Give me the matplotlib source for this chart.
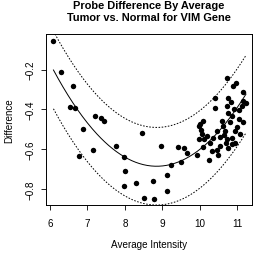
#!/usr/bin/env python3
# -*- coding: utf-8 -*-
"""
Probe difference by average intensity, tumor vs. normal, VIM gene
"""
import numpy as np
import matplotlib
matplotlib.use("Agg")
import matplotlib.pyplot as plt

# ---------- data ----------
avg_intensity = [
    6.09, 6.28, 6.62, 6.52, 6.66, 7.20, 7.36, 7.45, 6.88, 6.78, 7.16, 7.76,
    8.46, 7.99, 8.00, 7.99, 8.30, 8.74, 8.52, 8.78, 8.97, 9.12, 9.12, 9.24,
    9.41, 9.49, 9.59, 9.65, 9.92, 10.26, 10.32, 10.50, 9.97,
    10.73, 10.98, 10.88, 11.17, 10.40, 10.77, 10.83, 11.24, 11.12, 11.06,
    10.92, 10.77, 11.06, 10.10, 9.97, 10.03, 10.06, 10.12, 10.28, 10.59,
    10.63, 10.68, 10.55, 10.72, 10.86, 10.86, 10.77, 10.46, 10.10, 10.95,
    11.08, 11.01, 11.17, 10.65, 10.46, 10.81, 10.37, 10.19, 10.72, 10.86,
    10.01, 10.55, 10.95, 10.71, 10.40, 11.15,
]
difference = [
    -0.055, -0.214, -0.282, -0.387, -0.394, -0.434, -0.443, -0.461, -0.501,
    -0.636, -0.604, -0.582, -0.521, -0.641, -0.708, -0.787, -0.772, -0.760,
    -0.844, -0.852, -0.583, -0.730, -0.812, -0.678, -0.587, -0.666, -0.594,
    -0.617, -0.632, -0.654, -0.610, -0.627, -0.549,
    -0.243, -0.266, -0.281, -0.312, -0.345, -0.345, -0.362, -0.370, -0.382,
    -0.402, -0.399, -0.416, -0.449, -0.459, -0.483, -0.503, -0.525, -0.550,
    -0.567, -0.458, -0.483, -0.508, -0.537, -0.550, -0.542, -0.575, -0.592,
    -0.604, -0.587, -0.508, -0.525, -0.488, -0.466, -0.530, -0.508, -0.466,
    -0.542, -0.533, -0.382, -0.433, -0.475, -0.584, -0.567, -0.567, -0.392,
    -0.359,
]

# quadratic fit: y = curv * (x - center)^2 + minimum, band = +/- half width
fit_center = 8.85
fit_minimum = -0.686
fit_curv = 0.0635
band_half = 0.195

x_ticks = [6, 7, 8, 9, 10, 11]
y_ticks = [-0.8, -0.6, -0.4, -0.2]

# ---------- plot ----------
plt.rcParams["font.family"] = ["Liberation Sans", "DejaVu Sans"]

fig = plt.figure(figsize=(2.54, 2.55), dpi=100)
ax = fig.add_axes([0.181, 0.192, 0.811, 0.671])

ax.plot(avg_intensity, difference, "o", color="black", ms=3.9, mew=0)

xs = np.linspace(min(avg_intensity), max(avg_intensity), 200)
fit = fit_curv * (xs - fit_center) ** 2 + fit_minimum
ax.plot(xs, fit, color="black", lw=0.7)
ax.plot(xs, fit + band_half, color="black", lw=0.7, dashes=(1.6, 1.6))
ax.plot(xs, fit - band_half, color="black", lw=0.7, dashes=(1.6, 1.6))

ax.set_xlim(5.89, 11.40)
ax.set_ylim(-0.881, -0.021)
ax.set_xticks(x_ticks)
ax.set_xticklabels([str(t) for t in x_ticks])
ax.set_yticks(y_ticks)
ax.set_yticklabels(["\u22120.8", "\u22120.6", "\u22120.4", "\u22120.2"],
                   rotation=90, va="center")
ax.tick_params(direction="out", length=3.6, width=0.6, labelsize=7.1, pad=6)
ax.tick_params(axis="y", pad=4)
for s in ax.spines.values():
    s.set_linewidth(0.7)

ax.set_xlabel("Average Intensity", fontsize=7.1, labelpad=8)
ax.set_ylabel("Difference", fontsize=7.1, labelpad=8)
fig.text(0.585, 0.995, "Probe Difference By Average\nTumor vs. Normal for VIM Gene",
         ha="center", va="top", fontsize=7.9, fontweight="bold", linespacing=1.2)

fig.savefig("out.png", dpi=100)
